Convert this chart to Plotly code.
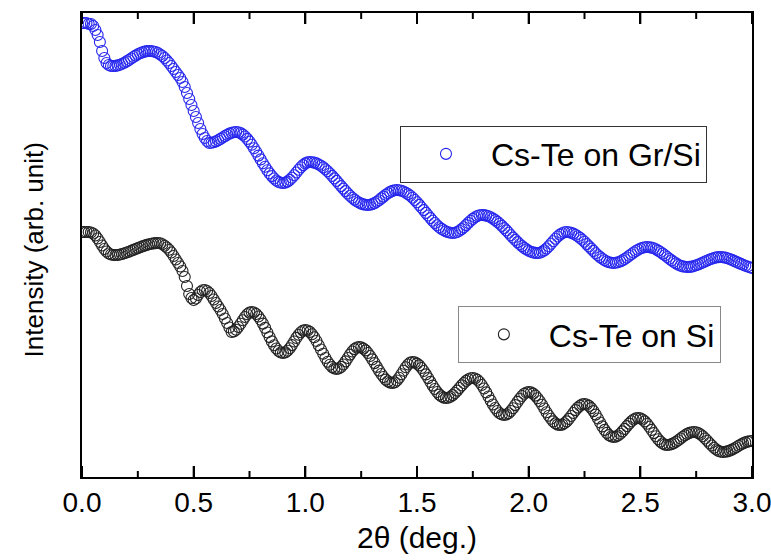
import plotly.graph_objects as go

# 2-theta grid (deg.), step 0.01 from 0 to 3
two_theta = [round(i * 0.01, 2) for i in range(301)]

# Intensity (arb. unit), Cs-Te on Gr/Si
gr_si = [
477, 477, 477, 476, 476, 474, 470, 465, 458, 449,
442, 437, 435, 434, 434, 434.1, 434.6, 435.3, 436.2, 437.3,
438.6, 440.0, 441.5, 443.0, 444.4, 445.7, 446.8, 447.6, 448.4, 448.9,
449, 449, 448.5, 448, 447, 445.5, 444, 442, 439.5, 437,
434, 431, 428, 425, 422, 418, 413, 407, 401, 395,
389, 383, 377, 371, 366, 362, 359, 357, 357.2, 357.7,
358.6, 359.7, 361.1, 362.5, 363.9, 365.2, 366.4, 367.3, 367.8, 368,
367.7, 366.9, 365.4, 363.5, 361.1, 358.4, 355.2, 351.8, 348.2, 344.4,
340.6, 336.8, 333.2, 329.7, 326.6, 323.9, 321.5, 319.5, 318.1, 317.3,
317, 317.4, 318.4, 320.1, 322.2, 324.8, 327.5, 330.2, 332.7, 334.9,
336.6, 337.6, 338, 337.8, 337.4, 336.6, 335.5, 334.2, 332.6, 330.8,
328.7, 326.5, 324.1, 321.6, 319.1, 316.5, 313.9, 311.4, 308.9, 306.5,
304.3, 302.2, 300.4, 298.8, 297.5, 296.4, 295.6, 295.2, 295, 295.2,
295.9, 296.9, 298.2, 299.8, 301.6, 303.4, 305.2, 306.8, 308.1, 309.1,
309.8, 310, 309.8, 309.3, 308.5, 307.3, 305.9, 304.2, 302.2, 300.0,
297.7, 295.1, 292.5, 289.9, 287.1, 284.5, 281.9, 279.3, 277.0, 274.8,
272.8, 271.1, 269.7, 268.5, 267.7, 267.2, 267, 267.3, 268.0, 269.3,
270.9, 272.8, 274.9, 277.1, 279.2, 281.1, 282.7, 284.0, 284.7, 285,
284.9, 284.4, 283.7, 282.7, 281.4, 279.9, 278.1, 276.2, 274.1, 271.9,
269.6, 267.2, 264.8, 262.4, 260.1, 257.9, 255.8, 253.9, 252.1, 250.6,
249.3, 248.3, 247.6, 247.1, 247, 247.3, 248.2, 249.6, 251.5, 253.8,
256.2, 258.8, 261.2, 263.5, 265.4, 266.8, 267.7, 268, 267.8, 267.3,
266.4, 265.3, 263.8, 262.1, 260.2, 258.2, 255.9, 253.6, 251.4, 249.1,
246.8, 244.7, 242.9, 241.2, 239.7, 238.5, 237.7, 237.2, 237, 237.2,
237.7, 238.5, 239.6, 241.0, 242.5, 244.2, 245.8, 247.5, 249.0, 250.3,
251.5, 252.3, 252.8, 253, 252.8, 252.4, 251.7, 250.7, 249.4, 248.0,
246.4, 244.7, 243.0, 241.3, 239.6, 238.0, 236.6, 235.3, 234.3, 233.6,
233.2, 233, 233.1, 233.4, 234.0, 234.7, 235.5, 236.5, 237.5, 238.5,
239.5, 240.5, 241.3, 242.0, 242.6, 242.9, 243, 242.8, 242.4, 241.8,
241.0, 240.1, 239.1, 238.1, 237.1, 236.1, 235.2, 234.3, 233.5, 232.7,
232,
]

# Intensity (arb. unit), Cs-Te on Si
si = [
268, 268, 268, 268, 267.5, 266.5, 264.5, 261.5, 258, 254.5,
251, 248.5, 246.5, 245.5, 245, 245, 245, 245.5, 246, 246.7,
247.5, 248.3, 249.2, 250.1, 251, 251.9, 252.8, 253.6, 254.4, 255.1,
255.7, 256.2, 256.6, 256.9, 257, 256.7, 255.8, 254.3, 252.5, 250.3,
247.5, 244, 240.5, 237, 233.5, 229, 223, 214, 206, 202,
200, 201.5, 205, 208, 209.8, 210, 209, 207, 204, 200.5,
197, 193.5, 190, 186, 181.5, 177, 172.5, 168, 168.6, 170.3,
173, 176.3, 179.7, 183, 185.7, 187.4, 188, 187.5, 186.0, 183.5,
180.3, 176.4, 172.1, 167.5, 162.9, 158.6, 154.7, 151.5, 149.0, 147.5,
147, 147.6, 149.2, 151.7, 154.9, 158.5, 162.1, 165.3, 167.8, 169.4,
170, 169.5, 168.1, 165.7, 162.7, 159.0, 154.8, 150.5, 146.2, 142.0,
138.3, 135.3, 132.9, 131.5, 131, 131.5, 133.1, 135.5, 138.6, 142.0,
145.4, 148.5, 150.9, 152.5, 153, 152.6, 151.4, 149.6, 147.0, 144.0,
140.6, 136.9, 133.1, 129.4, 126.0, 123.0, 120.4, 118.6, 117.4, 117,
117.6, 119.5, 122.2, 125.7, 129.3, 132.7, 135.5, 137.4, 138, 137.6,
136.4, 134.6, 132.0, 129.0, 125.6, 121.9, 118.1, 114.4, 111.0, 108.0,
105.4, 103.6, 102.4, 102, 102.3, 103.3, 104.9, 107.0, 109.4, 112.0,
114.6, 117.0, 119.1, 120.7, 121.7, 122, 121.5, 120.2, 118.0, 115.0,
111.5, 107.6, 103.5, 99.4, 95.5, 92.0, 89.0, 86.8, 85.5, 85,
85.5, 86.8, 89.0, 91.7, 94.9, 98.1, 101.3, 104.0, 106.2, 107.5,
108, 107.6, 106.4, 104.4, 101.8, 98.7, 95.2, 91.5, 87.8, 84.3,
81.2, 78.6, 76.6, 75.4, 75, 75.4, 76.7, 78.6, 81.1, 84.0,
87.0, 89.9, 92.4, 94.3, 95.6, 96, 95.5, 94.1, 91.9, 88.9,
85.4, 81.5, 77.5, 73.6, 70.1, 67.1, 64.9, 63.5, 63, 63.4,
64.5, 66.3, 68.6, 71.1, 73.9, 76.4, 78.7, 80.5, 81.6, 82,
81.6, 80.5, 78.6, 76.2, 73.3, 70.1, 66.9, 63.7, 60.8, 58.4,
56.5, 55.4, 55, 55.2, 55.9, 56.9, 58.2, 59.8, 61.5, 63.2,
64.7, 66.1, 67.1, 67.8, 68, 67.7, 66.9, 65.5, 63.7, 61.5,
59.2, 56.8, 54.5, 52.3, 50.5, 49.1, 48.3, 48, 48.2, 48.6,
49.4, 50.4, 51.5, 52.8, 54.2, 55.5, 56.6, 57.6, 58.4, 58.8,
59,
]

x_major_ticks = [0.0, 0.5, 1.0, 1.5, 2.0, 2.5, 3.0]
x_tick_text = ["0.0", "0.5", "1.0", "1.5", "2.0", "2.5", "3.0"]
x_minor_ticks = [0.25, 0.75, 1.25, 1.75, 2.25, 2.75]

FONT = "Liberation Sans, Arial, sans-serif"

fig = go.Figure()
fig.add_trace(go.Scatter(
    x=two_theta, y=gr_si, mode="markers", name="Cs-Te on Gr/Si",
    marker=dict(symbol="circle-open", size=11, color="#2626ee", line=dict(width=1.1)),
    legend="legend", showlegend=True,
))
fig.add_trace(go.Scatter(
    x=two_theta, y=si, mode="markers", name="Cs-Te on Si",
    marker=dict(symbol="circle-open", size=11, color="#222222", line=dict(width=1.1)),
    legend="legend2", showlegend=True,
))

plot_h = 560 - 13 - 83  # plot area height in px
major_len = 11 / plot_h
minor_len = 6 / plot_h

# inward tick marks on the bottom and top edges, placed at the axis tick values
tick_shapes = []
for vals, ln in ((x_major_ticks, major_len), (x_minor_ticks, minor_len)):
    for v in vals:
        for y0, y1 in ((0, ln), (1, 1 - ln)):
            tick_shapes.append(dict(
                type="line", xref="x", yref="paper", x0=v, x1=v, y0=y0, y1=y1,
                line=dict(color="black", width=2), layer="above",
            ))

fig.update_layout(
    width=771, height=560,
    margin=dict(l=82, r=19, t=13, b=83),
    paper_bgcolor="white", plot_bgcolor="white",
    font=dict(family=FONT, color="black"),
    showlegend=True,
    legend=dict(
        visible=True,
        x=0.4746, y=0.696, xanchor="left", yanchor="middle",
        bgcolor="white", bordercolor="#333333", borderwidth=1,
        font=dict(size=32, family=FONT), itemwidth=80,
    ),
    legend2=dict(
        visible=True,
        x=0.561, y=0.307, xanchor="left", yanchor="middle",
        bgcolor="white", bordercolor="#888888", borderwidth=1,
        font=dict(size=32, family=FONT), itemwidth=80,
    ),
    xaxis=dict(
        range=[0, 3], tickmode="array", tickvals=x_major_ticks, ticktext=x_tick_text,
        ticks="inside", ticklen=11, tickwidth=2, tickcolor="black",
        showline=True, linewidth=1.5, linecolor="black", mirror="ticks",
        showgrid=False, zeroline=False, automargin=False,
        ticklabeloverflow="allow",
        tickfont=dict(size=28, family=FONT, color="black"),
        title=dict(text="2θ (deg.)", font=dict(size=30, family=FONT), standoff=10),
    ),
    yaxis=dict(
        range=[23, 487], showticklabels=False, ticks="", automargin=False,
        showline=True, linewidth=1.5, linecolor="black", mirror=True,
        showgrid=False, zeroline=False,
    ),
    shapes=tick_shapes,
    annotations=[dict(
        text="Intensity (arb. unit)", textangle=-90,
        xref="paper", yref="paper", x=-0.072, y=0.49,
        xanchor="center", yanchor="middle", showarrow=False,
        font=dict(size=26, family=FONT, color="black"),
    )],
)

fig.write_html("out.html")
